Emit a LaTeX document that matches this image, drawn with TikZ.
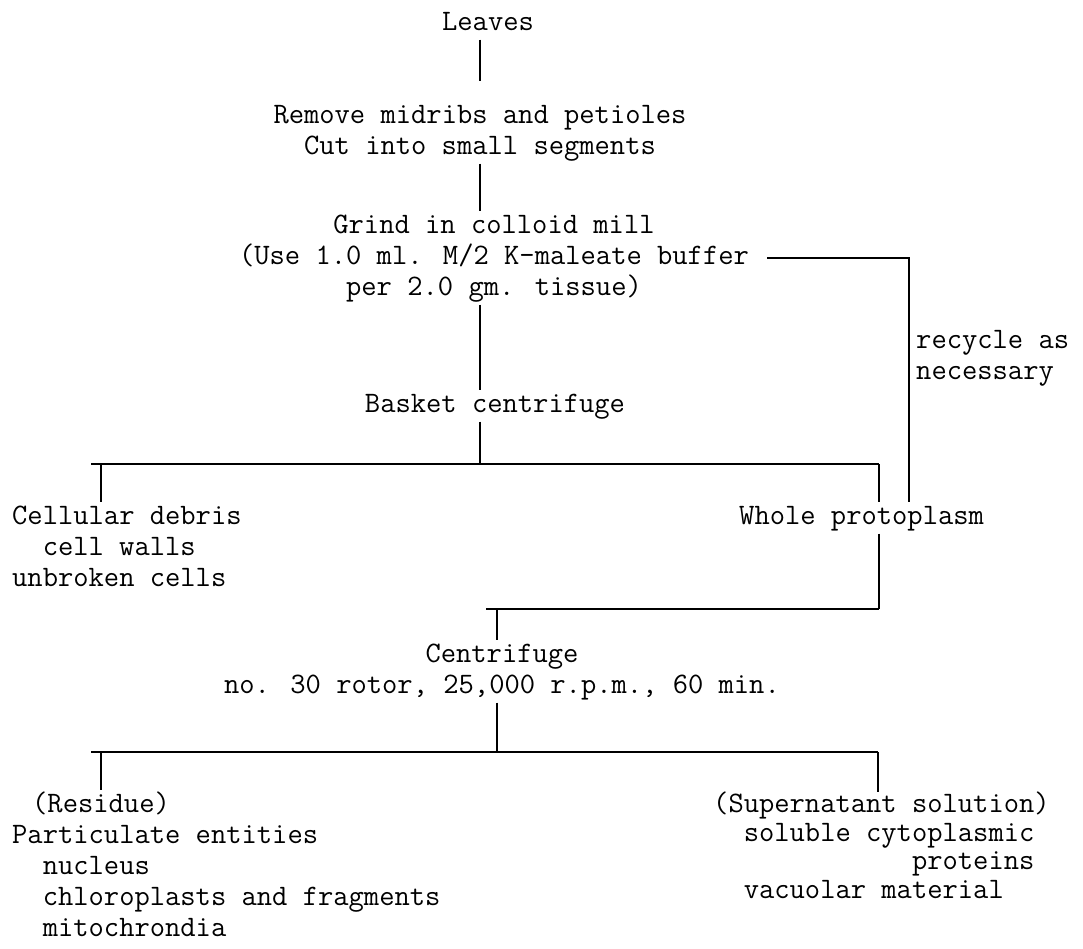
\documentclass[tikz,border=0pt]{standalone}
\usepackage{fontspec}
\usepackage{tikz}
\usetikzlibrary{positioning}

\begin{document}
\begin{tikzpicture}[
        x=1pt, y=-1pt,
        every node/.style={font=\ttfamily\fontsize{29.7}{31}\selectfont, inner sep=0pt},
        flowline/.style={line width=1.8pt},
        barline/.style={line width=2.8pt}
        ]
        \useasboundingbox (0,0) rectangle (1083,948);

        % Nodes
        \node (leaves) [anchor=base] at (488,30) {\strut Leaves};
        \node (remove) [anchor=north, align=center] at (480,101.3) {\strut Remove midribs and petioles\\ \strut Cut into small segments};
        \node (grind) [anchor=north, align=center] at (494,211.3) {\strut Grind in colloid mill\\ \strut (Use 1.0 ml. M/2 K-maleate buffer\\ \strut per 2.0 gm. tissue)};
        \node (basket) [anchor=base] at (495,412) {\strut Basket centrifuge};
        \node (debris) [anchor=north west, align=left] at (12,502.3) {\strut Cellular debris\\ \strut\hphantom{xx}cell walls\\ \strut unbroken cells};
        \node (whole) [anchor=base west] at (739,524) {\strut Whole protoplasm};
        \node (recycle) [anchor=north west, align=left] at (916,326.3) {\strut recycle as\\ \strut necessary};
        \node (centri) [anchor=north, align=center] at (502,640.3) {\strut Centrifuge\\ \strut no. 30 rotor, 25,000 r.p.m., 60 min.};
        \node (residue) [anchor=north west, align=left] at (12,790.3) {\strut\hspace*{20pt}(Residue)\\ \strut Particulate entities\\ \strut\hphantom{xx}nucleus\\ \strut\hphantom{xx}chloroplasts and fragments\\ \strut\hphantom{xx}mitochrondia};
        \node (super) [anchor=north west, align=left, font=\ttfamily\fontsize{29.7}{28.5}\selectfont] at (713,792) {\strut (Supernatant solution)\\ \strut\hphantom{xx}soluble cytoplasmic\\ \strut\hphantom{xxxxxxxxxxxxx}proteins\\ \strut\hphantom{xx}vacuolar material};

        % Forks
        \coordinate (fork1) at (480,464);
        \coordinate (drop1) at (101,464);
        \coordinate (drop2) at (879,464);
        \coordinate (join) at (879,609);
        \coordinate (fork2) at (497,609);
        \coordinate (fork3) at (497,752);
        \coordinate (drop3) at (101,752);
        \coordinate (drop4) at (878,752);

        % Lines
        \draw[flowline, shorten >=20pt] (leaves.south -| remove) -- (remove.north);
        \draw[flowline] (remove.south) -- (remove.south |- grind.north);
        \draw[flowline] (grind.south -| remove) -- (basket.north -| remove);
        \draw[flowline] (basket.south -| remove) -- (fork1);
        \draw[barline] ([xshift=-10pt]drop1) -- (drop2);
        \draw[flowline] (drop1) -- (drop1 |- debris.north);
        \draw[flowline] (drop2) -- (drop2 |- whole.north);
        \draw[flowline, shorten <=18pt] (grind.east) -| ([xshift=170pt]whole.north west);
        \draw[flowline] (whole.south -| drop2) -- (join);
        \draw[barline] (join) -- ([xshift=-11pt]fork2);
        \draw[flowline] (fork2) -- (fork2 |- centri.north);
        \draw[flowline] (centri.south -| fork2) -- (fork3);
        \draw[barline] ([xshift=-10pt]drop3) -- (drop4);
        \draw[flowline] (drop3) -- (drop3 |- residue.north);
        \draw[flowline] (drop4) -- (drop4 |- super.north);
    \end{tikzpicture}
\end{document}
